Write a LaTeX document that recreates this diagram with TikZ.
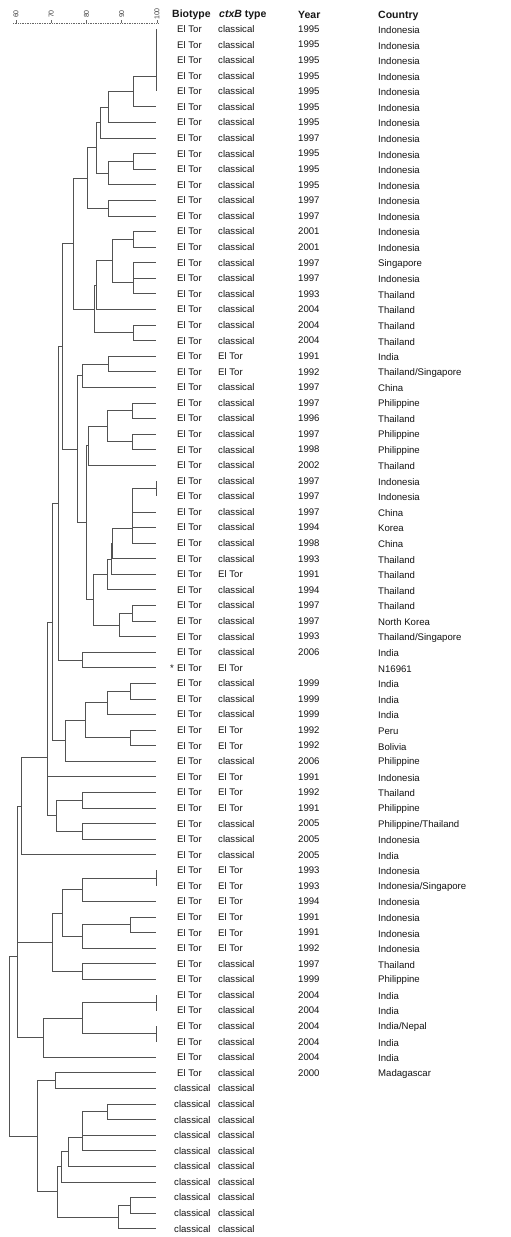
\documentclass[tikz,border=0pt]{standalone}
\usepackage{fontspec}
\setmainfont{Liberation Sans}
\usetikzlibrary{calc}
\newcommand\jn[4]{%
  \path let \p1=(#3), \p2=(#4) in coordinate (#1) at (#2pt,{0.5*\y1+0.5*\y2});
  \draw[br] (#1) |- (#3);
  \draw[br] (#1) |- (#4);}
\newcommand\strain[4]{%
  \node[txt] (bt#1) at (177,{29+15.58*(#1-1)}) {El Tor};
  \node[txt] (ct#1) at (218,{29+15.58*(#1-1)}) {#2};
  \node[txt] (yr#1) at (298,{29+15.58*(#1-1)}) {#3};
  \node[txt] (co#1) at (378,{30+15.58*(#1-1)}) {#4};}
\newcommand\classrow[1]{%
  \node[txt] (bt#1) at (174,{29+15.58*(#1-1)}) {classical};
  \node[txt] (ct#1) at (218,{29+15.58*(#1-1)}) {classical};}
\begin{document}
\begin{tikzpicture}[x=1pt,y=-1pt,
  br/.style={draw=black!68,line width=0.85pt},
  txt/.style={anchor=west,inner sep=0pt,font=\fontsize{9.6}{11}\selectfont,text=black!92},
  hdr/.style={anchor=west,inner sep=0pt,font=\fontsize{10.5}{12}\selectfont\bfseries,text=black!90},
  scl/.style={rotate=90,inner sep=0pt,font=\fontsize{7}{7}\selectfont,text=black!75}]
\useasboundingbox[fill=white] (0,0) rectangle (511,1237);

% scale bar
\coordinate (sA) at (13,23);
\coordinate (sB) at (158,23);
\draw[black!60,densely dotted,line width=.7pt] (sA) -- (sB);
\foreach \v/\xx [count=\k] in {60/16,70/51.25,80/86.5,90/121.75,100/157}{
  \node[scl] (sc\k) at (\xx,14) {\v};
  \draw[black!60,line width=.6pt] (\xx,23) -- (\xx,19.5);
}

% header
\node[hdr] (h1) at (172,15) {Biotype};
\node[hdr] (h2) at (219,15) {\textit{ctxB} type};
\node[hdr] (h3) at (298,15) {Year};
\node[hdr] (h4) at (378,16) {Country};

% leaves
\foreach \i in {1,...,78}{\coordinate (l\i) at (156,{29+15.58*(\i-1)});}

% tree
\jn{a1}{156}{l1}{l2}
\jn{a2}{156}{a1}{l3}
\jn{a3}{156}{a2}{l4}
\jn{a4}{156}{a3}{l5}
\jn{b1}{133}{a4}{l6}
\jn{b2}{108}{b1}{l7}
\jn{b3}{100}{b2}{l8}
\jn{c1}{133}{l9}{l10}
\jn{c2}{108}{c1}{l11}
\jn{b4}{96}{b3}{c2}
\jn{d1}{108}{l12}{l13}
\jn{b5}{87}{b4}{d1}
\jn{e1}{133}{l14}{l15}
\jn{e2}{133}{l16}{l17}
\jn{e3}{133}{e2}{l18}
\jn{e4}{112}{e1}{e3}
\jn{e5}{96}{e4}{l19}
\jn{e6}{133}{l20}{l21}
\jn{e7}{94}{e5}{e6}
\jn{f1}{73}{b5}{e7}
\jn{g1}{108}{l22}{l23}
\jn{g2}{82}{g1}{l24}
\jn{h1}{132}{l25}{l26}
\jn{h2}{132}{l27}{l28}
\jn{hh3}{107}{h1}{h2}
\jn{hh4}{88}{hh3}{l29}
\jn{i1}{156}{l30}{l31}
\jn{i2}{132}{i1}{l32}
\jn{i3}{132}{i2}{l33}
\jn{i4}{132}{i3}{l34}
\jn{i5}{112}{i4}{l35}
\jn{i6}{111}{i5}{l36}
\jn{i7}{107}{i6}{l37}
\jn{j1}{132}{l38}{l39}
\jn{j2}{119}{j1}{l40}
\jn{i8}{93}{i7}{j2}
\jn{hh5}{86}{hh4}{i8}
\jn{g3}{77}{g2}{hh5}
\jn{f2}{62}{f1}{g3}
\jn{k1}{82}{l41}{l42}
\jn{f3}{58}{f2}{k1}
\jn{m1}{130}{l43}{l44}
\jn{m2}{107}{m1}{l45}
\jn{m3}{130}{l46}{l47}
\jn{m4}{85}{m2}{m3}
\jn{m5}{65}{m4}{l48}
\jn{f4}{52}{f3}{m5}
\jn{n1}{82}{l50}{l51}
\jn{n2}{82}{l52}{l53}
\jn{n3}{56}{n1}{n2}
\jn{f5}{47}{f4}{l49}
\jn{f6}{47}{f5}{n3}
\jn{f7}{21}{f6}{l54}
\jn{p1}{156}{l55}{l56}
\jn{p2}{82}{p1}{l57}
\jn{p3}{130}{l58}{l59}
\jn{p4}{82}{p3}{l60}
\jn{p5}{62}{p2}{p4}
\jn{p6}{82}{l61}{l62}
\jn{p7}{52}{p5}{p6}
\jn{q1}{156}{l63}{l64}
\jn{q2}{156}{l65}{l66}
\jn{q3}{82}{q1}{q2}
\jn{q4}{43}{q3}{l67}
\jn{f8}{17}{f7}{p7}
\jn{f9}{17}{f8}{q4}
\jn{r1}{55}{l68}{l69}
\jn{s1}{107}{l70}{l71}
\jn{s2}{82}{s1}{l72}
\jn{s3}{82}{s2}{l73}
\jn{s4}{68}{s3}{l74}
\jn{s5}{61}{s4}{l75}
\jn{t1}{130}{l76}{l77}
\jn{t2}{118}{t1}{l78}
\jn{s6}{57}{s5}{t2}
\jn{r2}{37}{r1}{s6}
\jn{root}{9}{f9}{r2}

% table
\strain{1}{classical}{1995}{Indonesia}
\strain{2}{classical}{1995}{Indonesia}
\strain{3}{classical}{1995}{Indonesia}
\strain{4}{classical}{1995}{Indonesia}
\strain{5}{classical}{1995}{Indonesia}
\strain{6}{classical}{1995}{Indonesia}
\strain{7}{classical}{1995}{Indonesia}
\strain{8}{classical}{1997}{Indonesia}
\strain{9}{classical}{1995}{Indonesia}
\strain{10}{classical}{1995}{Indonesia}
\strain{11}{classical}{1995}{Indonesia}
\strain{12}{classical}{1997}{Indonesia}
\strain{13}{classical}{1997}{Indonesia}
\strain{14}{classical}{2001}{Indonesia}
\strain{15}{classical}{2001}{Indonesia}
\strain{16}{classical}{1997}{Singapore}
\strain{17}{classical}{1997}{Indonesia}
\strain{18}{classical}{1993}{Thailand}
\strain{19}{classical}{2004}{Thailand}
\strain{20}{classical}{2004}{Thailand}
\strain{21}{classical}{2004}{Thailand}
\strain{22}{El Tor}{1991}{India}
\strain{23}{El Tor}{1992}{Thailand/Singapore}
\strain{24}{classical}{1997}{China}
\strain{25}{classical}{1997}{Philippine}
\strain{26}{classical}{1996}{Thailand}
\strain{27}{classical}{1997}{Philippine}
\strain{28}{classical}{1998}{Philippine}
\strain{29}{classical}{2002}{Thailand}
\strain{30}{classical}{1997}{Indonesia}
\strain{31}{classical}{1997}{Indonesia}
\strain{32}{classical}{1997}{China}
\strain{33}{classical}{1994}{Korea}
\strain{34}{classical}{1998}{China}
\strain{35}{classical}{1993}{Thailand}
\strain{36}{El Tor}{1991}{Thailand}
\strain{37}{classical}{1994}{Thailand}
\strain{38}{classical}{1997}{Thailand}
\strain{39}{classical}{1997}{North Korea}
\strain{40}{classical}{1993}{Thailand/Singapore}
\strain{41}{classical}{2006}{India}
\node[txt] (bt42) at (177,{29+15.58*41}) {El Tor};
\node[txt,anchor=east] (star) at (174,{29+15.58*41}) {*};
\node[txt] (ct42) at (218,{29+15.58*41}) {El Tor};
\node[txt] (co42) at (378,{30+15.58*41}) {N16961};
\strain{43}{classical}{1999}{India}
\strain{44}{classical}{1999}{India}
\strain{45}{classical}{1999}{India}
\strain{46}{El Tor}{1992}{Peru}
\strain{47}{El Tor}{1992}{Bolivia}
\strain{48}{classical}{2006}{Philippine}
\strain{49}{El Tor}{1991}{Indonesia}
\strain{50}{El Tor}{1992}{Thailand}
\strain{51}{El Tor}{1991}{Philippine}
\strain{52}{classical}{2005}{Philippine/Thailand}
\strain{53}{classical}{2005}{Indonesia}
\strain{54}{classical}{2005}{India}
\strain{55}{El Tor}{1993}{Indonesia}
\strain{56}{El Tor}{1993}{Indonesia/Singapore}
\strain{57}{El Tor}{1994}{Indonesia}
\strain{58}{El Tor}{1991}{Indonesia}
\strain{59}{El Tor}{1991}{Indonesia}
\strain{60}{El Tor}{1992}{Indonesia}
\strain{61}{classical}{1997}{Thailand}
\strain{62}{classical}{1999}{Philippine}
\strain{63}{classical}{2004}{India}
\strain{64}{classical}{2004}{India}
\strain{65}{classical}{2004}{India/Nepal}
\strain{66}{classical}{2004}{India}
\strain{67}{classical}{2004}{India}
\strain{68}{classical}{2000}{Madagascar}
\foreach \i in {69,...,78}{\classrow{\i}}
\end{tikzpicture}
\end{document}
